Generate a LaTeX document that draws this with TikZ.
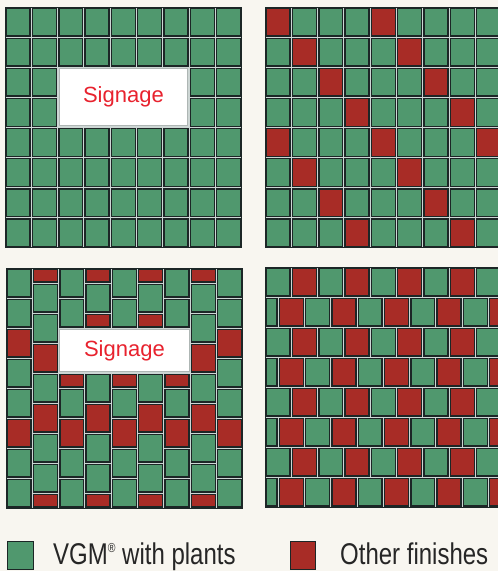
\documentclass[tikz,border=0pt]{standalone}
\usepackage{fontspec}
\setmainfont{Liberation Sans}
\newfontfamily\legfont[FakeStretch=0.8]{Liberation Sans}
\definecolor{vgm}{RGB}{80,152,110}
\definecolor{oth}{RGB}{168,44,38}
\definecolor{grout}{RGB}{205,214,212}
\definecolor{edge}{RGB}{28,38,38}
\definecolor{paper}{RGB}{248,246,240}
\definecolor{signred}{RGB}{232,34,46}
\tikzset{
  tilebox/.style={draw=edge, line width=1.4pt},
  panelline/.style={draw=edge, line width=1pt},
  signbox/.style={fill=white, draw=grout!85!black, line width=0.8pt},
  signtext/.style={text=signred, font=\fontsize{22}{22}\selectfont, inner sep=0pt},
  legtext/.style={font=\legfont\fontsize{30}{30}\selectfont, text=black!85, inner sep=0pt, anchor=base west},
  legbox/.style={draw=edge, line width=1pt}
}
\newcommand\tileR[5]{\filldraw[tilebox,fill=#5] ({#1+1.2},{#2+1.2}) rectangle ({#3-1.2},{#4-1.2});}
\newcommand\blt[4]{\tileR{6+#1*26.3}{#2}{6+#1*26.3+26.3}{#3}{#4}}
\begin{document}
\begin{tikzpicture}[x=1pt,y=-1pt]
\clip (0,0) rectangle (498,571);
\fill[paper] (0,0) rectangle (498,571);

% ---------- top-left panel ----------
\fill[grout] (5,7) rectangle (241.7,247.8);
\foreach \r in {0,...,7}{\foreach \c in {0,...,8}{
  \pgfmathsetmacro\xa{5+\c*26.3}\pgfmathsetmacro\ya{7+\r*30.1}
  \tileR{\xa}{\ya}{\xa+26.3}{\ya+30.1}{vgm}}}
\fill[grout] (57.6,67.2) rectangle (189.1,127.4);
\draw[signbox] (59.2,68.8) rectangle (187.5,125.8);
\node[signtext] (sign1) at (123.4,97.3) {Signage};
\draw[panelline] (5,7) rectangle (241.7,247.8);

% ---------- top-right panel ----------
\fill[grout] (265,7) rectangle (502,247.8);
\foreach \r in {0,...,7}{\foreach \c in {0,...,8}{
  \pgfmathsetmacro\xa{265+\c*26.3}\pgfmathsetmacro\ya{7+\r*30.1}
  \tileR{\xa}{\ya}{\xa+26.3}{\ya+30.1}{vgm}}}
\foreach \r/\c in {0/0,0/4,1/1,1/5,2/2,2/6,3/3,3/7,4/0,4/4,4/8,5/1,5/5,6/2,6/6,7/3,7/7}{
  \pgfmathsetmacro\xa{265+\c*26.3}\pgfmathsetmacro\ya{7+\r*30.1}
  \tileR{\xa}{\ya}{\xa+26.3}{\ya+30.1}{oth}}
\draw[panelline] (265,7) rectangle (502,247.8);

% ---------- bottom-left panel ----------
\fill[grout] (6,268) rectangle (242.7,508);
\foreach \c in {0,8}{\foreach \ya/\yb/\tcol in {268/298/vgm,298/328/vgm,328/358/oth,358/388/vgm,388/418/vgm,418/448/oth,448/478/vgm,478/508/vgm}{\blt{\c}{\ya}{\yb}{\tcol}}}
\foreach \c in {2,4,6}{\foreach \ya/\yb/\tcol in {268/298/vgm,298/328/vgm,373/388/oth,388/418/vgm,418/448/oth,448/478/vgm,478/508/vgm}{\blt{\c}{\ya}{\yb}{\tcol}}}
\foreach \c in {1,7}{\foreach \ya/\yb/\tcol in {268/283/oth,283/313/vgm,313/343/vgm,343/373/oth,373/403/vgm,403/433/oth,433/463/vgm,463/493/vgm,493/508/oth}{\blt{\c}{\ya}{\yb}{\tcol}}}
\foreach \c in {3,5}{\foreach \ya/\yb/\tcol in {268/283/oth,283/313/vgm,313/328/oth,373/403/vgm,403/433/oth,433/463/vgm,463/493/vgm,493/508/oth}{\blt{\c}{\ya}{\yb}{\tcol}}}
\draw[signbox] (59.8,329.3) rectangle (188.9,371.6);
\node[signtext] (sign2) at (124.4,350.6) {Signage};
\draw[panelline] (6,268) rectangle (242.7,508);

% ---------- bottom-right panel ----------
\fill[grout] (265,267) rectangle (502,507);
\foreach \r in {0,2,4,6}{\foreach \i in {0,...,8}{
  \pgfmathsetmacro\xa{265+\i*26.3}\pgfmathsetmacro\ya{267+\r*30}
  \pgfmathtruncatemacro\odd{mod(\i,2)}
  \ifnum\odd=0 \def\tcol{vgm}\else\def\tcol{oth}\fi
  \tileR{\xa}{\ya}{\xa+26.3}{\ya+30}{\tcol}}}
\foreach \r in {1,3,5,7}{
  \pgfmathsetmacro\ya{267+\r*30}
  \tileR{265}{\ya}{278.15}{\ya+30}{vgm}
  \foreach \j in {0,...,8}{
    \pgfmathsetmacro\xa{278.15+\j*26.3}
    \pgfmathtruncatemacro\odd{mod(\j,2)}
    \ifnum\odd=0 \def\tcol{oth}\else\def\tcol{vgm}\fi
    \tileR{\xa}{\ya}{\xa+26.3}{\ya+30}{\tcol}}}
\draw[panelline] (265,267) rectangle (502,507);

% ---------- legend ----------
\filldraw[legbox, fill=vgm] (7,541) rectangle (33,569);
\node[legtext] (leg1) at (53,564) {VGM\raisebox{11.5pt}{\fontsize{13}{13}\selectfont ®} with plants};
\filldraw[legbox, fill=oth] (290,541) rectangle (315,569);
\node[legtext] (leg2) at (340,564) {Other finishes};
\end{tikzpicture}
\end{document}
